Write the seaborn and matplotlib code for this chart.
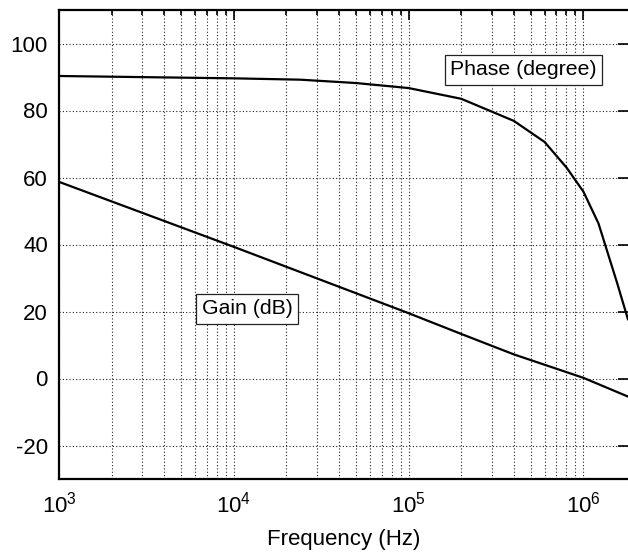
import numpy as np
import pandas as pd
import matplotlib
matplotlib.use("Agg")
import matplotlib.pyplot as plt
import seaborn as sns
from matplotlib.ticker import LogLocator, MultipleLocator

# Data
freq_gain = [1e3, 1e4, 1e5, 2e5, 4e5, 1e6, 1.8e6]
gain_db = [58.7, 39.3, 19.5, 13.3, 7.2, 0.2, -5.4]

freq_phase = [1e3, 1e4, 2.4e4, 5e4, 1e5, 2e5, 4e5, 6e5, 8e5, 1e6, 1.22e6, 1.56e6, 1.8e6]
phase_deg = [90.3, 89.6, 89.2, 88.2, 86.7, 83.5, 76.9, 70.6, 63.0, 55.8, 46.3, 28.5, 17.6]

y_ticks = [-20, 0, 20, 40, 60, 80, 100]
x_label = "Frequency (Hz)"
gain_label = "Gain (dB)"
phase_label = "Phase (degree)"

sns.set_style("white")
plt.rcParams["font.family"] = ["Liberation Sans", "DejaVu Sans"]
plt.rcParams["mathtext.fontset"] = "custom"
plt.rcParams["mathtext.rm"] = "Liberation Sans"
plt.rcParams["mathtext.it"] = "Liberation Sans"
plt.rcParams["axes.unicode_minus"] = False
plt.rcParams["text.color"] = "black"
plt.rcParams["axes.labelcolor"] = "black"
plt.rcParams["xtick.color"] = "black"
plt.rcParams["ytick.color"] = "black"

df_gain = pd.DataFrame({"f": freq_gain, "v": gain_db})
df_phase = pd.DataFrame({"f": freq_phase, "v": phase_deg})

fig = plt.figure(figsize=(6.28, 5.53), dpi=100)
ax = fig.add_axes([59 / 628, 74 / 553, 1 - 59 / 628, 469 / 553])

sns.lineplot(data=df_gain, x="f", y="v", ax=ax, color="black", lw=1.6)
sns.lineplot(data=df_phase, x="f", y="v", ax=ax, color="black", lw=1.6)

ax.set_xscale("log")
ax.set_xlim(1e3, 1.8e6)
ax.set_ylim(-30, 110)
ax.set_yticks(y_ticks)
ax.yaxis.set_minor_locator(MultipleLocator(10))
ax.xaxis.set_major_locator(LogLocator(base=10, numticks=10))
ax.xaxis.set_minor_locator(LogLocator(base=10, subs=np.arange(2, 10), numticks=20))

ax.grid(True, which="major", axis="both", ls=(0, (1, 2)), color="#222222", lw=0.8)
ax.grid(True, which="minor", axis="x", ls=(0, (1, 2)), color="#222222", lw=0.8)

ax.tick_params(which="both", direction="in", top=True, labelsize=16,
               width=1.2, color="black", labelcolor="black")
ax.tick_params(axis="y", which="major", right=True)
ax.tick_params(axis="y", which="minor", right=False)
ax.tick_params(which="major", length=7, pad=8)
ax.tick_params(which="minor", length=3.5)
ax.tick_params(axis="x", which="major", pad=9)

for s in ["left", "bottom", "top"]:
    ax.spines[s].set_linewidth(1.6)
    ax.spines[s].set_color("black")
ax.spines["right"].set_visible(False)

ax.set_xlabel(x_label, fontsize=16, labelpad=8, color="black")
ax.set_ylabel("")

bbox = dict(boxstyle="square,pad=0.25", fc="white", ec="#222222", lw=0.9)
ax.text(4.54e5, 92.1, phase_label, fontsize=15.3, ha="center", va="center", bbox=bbox)
ax.text(1.19e4, 20.8, gain_label, fontsize=15.3, ha="center", va="center", bbox=bbox)

fig.savefig("out.png", dpi=100)
